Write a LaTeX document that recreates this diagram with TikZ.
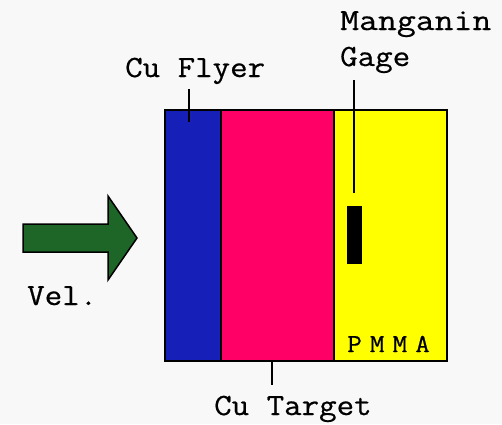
\documentclass[tikz,border=0pt]{standalone}
\usepackage{fontspec}
\newfontfamily\lblfont{Latin Modern Mono}[FakeStretch=1.1, FakeBold=0.6]
\begin{document}
\definecolor{paper}{RGB}{248,248,248}
\definecolor{flyerblue}{RGB}{22,32,185}
\definecolor{targetred}{RGB}{255,0,102}
\definecolor{pmmayellow}{RGB}{255,255,0}
\definecolor{velgreen}{RGB}{30,102,40}
\begin{tikzpicture}[x=1bp,y=-1bp,
  lbl/.style={font=\lblfont\fontsize{31}{31}\selectfont, inner sep=0pt, anchor=base west},
  small/.style={font=\lblfont\fontsize{26}{26}\selectfont, inner sep=0pt, anchor=base west},
  leader/.style={draw=black, line width=2bp},
  layer/.style={draw=black, line width=2bp, inner sep=0pt, anchor=north west}]
% canvas
\fill[paper] (0,0) rectangle (502,424);
\useasboundingbox (0,0) rectangle (502,424);

% impact stack: flyer, target, PMMA window
\node[layer, fill=flyerblue, minimum width=56bp, minimum height=251bp] (flyer) at (164,109) {};
\node[layer, fill=targetred, minimum width=113bp, minimum height=251bp] (target) at (220,109) {};
\node[layer, fill=pmmayellow, minimum width=113bp, minimum height=251bp] (pmma) at (333,109) {};

% embedded manganin gage
\node[fill=black, inner sep=0pt, minimum width=15bp, minimum height=58bp, anchor=north west] (gage) at (347,206) {};

% velocity arrow
\path[fill=velgreen, draw=black, line width=1.5bp, line join=miter]
  (23,224) -- (108,224) -- (108,196) -- (137,238) -- (108,280) -- (108,252) -- (23,252) -- cycle;
\node[lbl] (vel) at (27,305) {Vel.};

% labels
\node[lbl] (flyerlbl) at (125,77) {Cu Flyer};
\node[lbl, xscale=1.08] (gagelbl1) at (340,30) {Manganin};
\node[lbl] (gagelbl2) at (340,66) {Gage};
\node[lbl] (targetlbl) at (214,415) {Cu Target};
\node[small] (pmmalbl) at (347,352) {P\kern8bp M\kern8bp M\kern8bp A};

% leader lines
\coordinate (flyertip) at (189,122);
\coordinate (flyertop) at (189,89);
\draw[leader] (flyertop) -- (flyertip);
\coordinate (gagetop) at (354,80);
\coordinate (gagetip) at (354,193);
\draw[leader] (gagetop) -- (gagetip);
\coordinate (targetend) at (272,385);
\draw[leader] (target.south -| targetend) -- (targetend);
\end{tikzpicture}
\end{document}
